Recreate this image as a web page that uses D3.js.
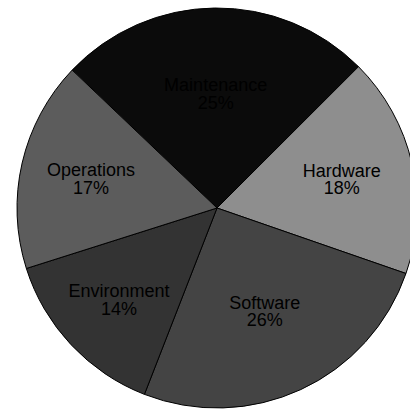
<!DOCTYPE html>
<html>
<head>
<meta charset="utf-8">
<script src="https://cdn.jsdelivr.net/npm/d3@7/dist/d3.min.js"></script>
<style>
  html, body { margin: 0; padding: 0; background: #ffffff; }
  svg { display: block; }
</style>
</head>
<body>
<svg id="chart" width="410" height="410"></svg>
<script>
// ---- data ----
const categories = ["Maintenance", "Hardware", "Software", "Environment", "Operations"];
const values = [25.4, 17.8, 25.6, 14.2, 17.0];
const colors = ["#0b0b0b", "#8e8e8e", "#444444", "#333333", "#5c5c5c"];

// ---- layout ----
const cx = 217, cy = 208, R = 200;
const startDeg = -46.4;

const svg = d3.select("#chart");
const g = svg.append("g").attr("transform", `translate(${cx},${cy})`);

const total = d3.sum(values);
const rows = categories.map((c, i) => ({ name: c, value: values[i], color: colors[i] }));

const pie = d3.pie()
  .value(d => d.value)
  .sort(null)
  .startAngle(startDeg * Math.PI / 180)
  .endAngle((startDeg + 360) * Math.PI / 180);

const arcs = pie(rows);
const arc = d3.arc().innerRadius(0).outerRadius(R);

// wider slices get their label a little closer to the centre
function labelPos(d) {
  const spanDeg = (d.endAngle - d.startAngle) * 180 / Math.PI;
  const r = 160 - 0.5 * spanDeg;
  return d3.arc().innerRadius(r).outerRadius(r).centroid(d);
}

g.selectAll("path.slice")
  .data(arcs)
  .join("path")
  .attr("class", "slice")
  .attr("d", arc)
  .attr("fill", d => d.data.color)
  .attr("stroke", "#000")
  .attr("stroke-width", 1);

const labels = g.selectAll("text.lbl")
  .data(arcs)
  .join("text")
  .attr("class", "lbl")
  .attr("transform", d => `translate(${labelPos(d)})`)
  .attr("text-anchor", "middle")
  .attr("font-family", "'Liberation Sans', Arial, Helvetica, sans-serif")
  .attr("font-size", 18)
  .attr("fill", "#000");

labels.append("tspan")
  .attr("x", 0)
  .attr("y", -2.5)
  .text(d => d.data.name);
labels.append("tspan")
  .attr("x", 0)
  .attr("y", 15)
  .text(d => Math.round(d.data.value / total * 100) + "%");
</script>
</body>
</html>
